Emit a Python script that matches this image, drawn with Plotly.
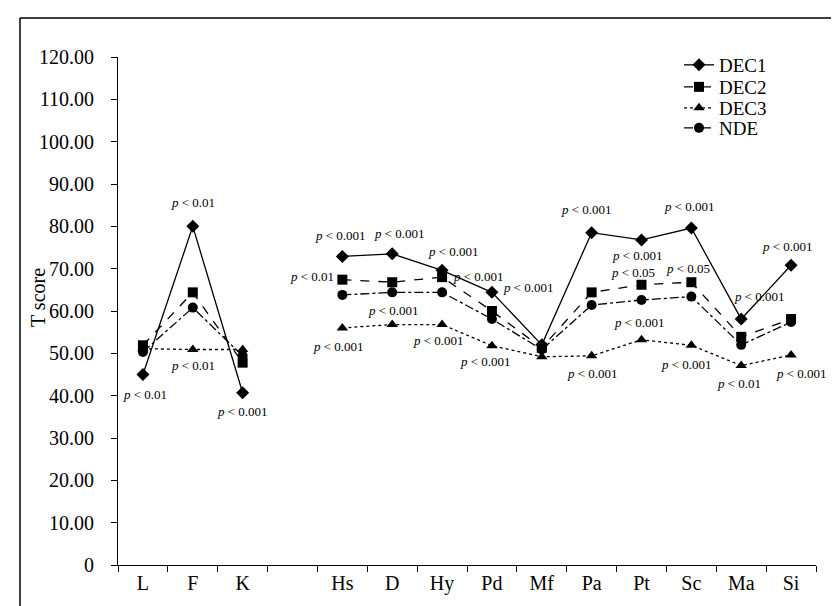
import plotly.graph_objects as go

# ---- data ----
categories_left = ["L", "F", "K"]
categories_right = ["Hs", "D", "Hy", "Pd", "Mf", "Pa", "Pt", "Sc", "Ma", "Si"]
gap_label = " "

dec1_left = [45.0, 80.0, 40.7]
dec1_right = [72.9, 73.5, 69.6, 64.4, 52.0, 78.5, 76.8, 79.6, 58.1, 70.8]
dec2_left = [51.9, 64.4, 47.8]
dec2_right = [67.4, 66.8, 68.0, 60.0, 51.3, 64.4, 66.2, 66.8, 53.9, 58.1]
dec3_left = [51.1, 50.9, 50.9]
dec3_right = [56.0, 56.8, 56.8, 51.8, 49.2, 49.4, 53.2, 51.9, 47.1, 49.6]
nde_left = [50.3, 60.8, 49.4]
nde_right = [63.8, 64.4, 64.4, 58.1, 50.9, 61.4, 62.6, 63.4, 52.0, 57.4]

y_tickvals = [0, 10, 20, 30, 40, 50, 60, 70, 80, 90, 100, 110, 120]
y_ticktext = ["0", "10.00", "20.00", "30.00", "40.00", "50.00", "60.00",
              "70.00", "80.00", "90.00", "100.00", "110.00", "120.00"]

# p-value labels: (series, category, text, dx, dy, xanchor)
p_labels = [
    ("DEC1", "F", "0.01", 0, -24, "center"),
    ("DEC3", "F", "0.01", 0, 16, "center"),
    ("DEC1", "L", "0.01", 2, 20, "center"),
    ("DEC1", "K", "0.001", 0, 19, "center"),
    ("DEC1", "Hs", "0.001", -2, -21, "center"),
    ("DEC1", "D", "0.001", 7, -20, "center"),
    ("DEC1", "Hy", "0.001", 11, -19, "center"),
    ("DEC2", "Hs", "0.01", -6, -3, "right"),
    ("DEC2", "Hy", "0.001", 9, -1, "left"),
    ("DEC1", "Pd", "0.001", 9, -5, "left"),
    ("DEC3", "Hs", "0.001", -4, 19, "center"),
    ("DEC3", "D", "0.001", 1, -14, "center"),
    ("DEC3", "Hy", "0.001", -4, 16, "center"),
    ("DEC3", "Pd", "0.001", -6, 16, "center"),
    ("DEC1", "Pa", "0.001", -5, -23, "center"),
    ("DEC1", "Pt", "0.001", -4, 16, "center"),
    ("DEC1", "Sc", "0.001", -2, -22, "center"),
    ("DEC1", "Si", "0.001", -4, -19, "center"),
    ("DEC1", "Ma", "0.001", 18, -23, "center"),
    ("DEC2", "Pt", "0.05", -9, -12, "center"),
    ("DEC2", "Sc", "0.05", -3, -14, "center"),
    ("DEC3", "Pt", "0.001", -2, -17, "center"),
    ("DEC3", "Pa", "0.001", 1, 18, "center"),
    ("DEC3", "Sc", "0.001", -5, 19, "center"),
    ("DEC3", "Ma", "0.01", -2, 18, "center"),
    ("DEC3", "Si", "0.001", 10, 18, "center"),
]

FONT = "Liberation Serif, Times New Roman, serif"
series = [
    ("DEC1", dec1_left, dec1_right, "solid", "diamond", 10),
    ("DEC2", dec2_left, dec2_right, "dash", "square", 10),
    ("DEC3", dec3_left, dec3_right, "dot", "triangle-up", 10),
    ("NDE", nde_left, nde_right, "dashdot", "circle", 10),
]

W, H = 839, 606
L, R, T, B = 110, 31, 49, 49
pw, ph = W - L - R, H - T - B


def px(xpix):
    return (xpix - L) / pw


def py(ypix):
    return (H - B - ypix) / ph


legend_ids = ["legend", "legend2", "legend3", "legend4"]
legend_rows = [57, 79, 100, 120]

x_all = categories_left + [gap_label] + categories_right
fig = go.Figure()
values = {}
for i, (name, left, right, dash, symbol, size) in enumerate(series):
    y_all = left + [None] + right
    values[name] = dict(zip(x_all, y_all))
    fig.add_trace(go.Scatter(
        x=x_all, y=y_all, name=name, mode="lines+markers",
        connectgaps=False, legend=legend_ids[i],
        line=dict(color="black", width=1.3, dash=dash),
        marker=dict(symbol=symbol, size=size, color="black"),
    ))

annotations = []
for s, cat, pv, dx, dy, xa in p_labels:
    annotations.append(dict(
        x=cat, y=values[s][cat], xref="x", yref="y",
        text="<i>p</i> < " + pv, showarrow=False,
        xanchor=xa, yanchor="middle", xshift=dx, yshift=-dy,
        font=dict(family=FONT, size=13, color="black"),
    ))

# y-axis title
annotations.append(dict(
    x=px(30), y=py(290), xref="paper", yref="paper", text="T score",
    textangle=-90, showarrow=False, xanchor="center", yanchor="middle",
    font=dict(family=FONT, size=20, color="black"),
))

shapes = [
    dict(type="line", xref="paper", yref="paper", x0=px(12), x1=px(839),
         y0=py(10), y1=py(10), line=dict(color="black", width=1.5)),
    dict(type="line", xref="paper", yref="paper", x0=px(12), x1=px(12),
         y0=py(10), y1=py(606), line=dict(color="black", width=1.5)),
]

legend_layout = {}
for lid, row in zip(legend_ids, legend_rows):
    legend_layout[lid] = dict(
        x=px(671), y=py(row), xanchor="left", yanchor="middle",
        bgcolor="rgba(0,0,0,0)", font=dict(family=FONT, size=19),
        itemwidth=30,
    )

fig.update_layout(
    width=W, height=H,
    margin=dict(l=L, r=R, t=T, b=B),
    paper_bgcolor="white", plot_bgcolor="white",
    font=dict(family=FONT, color="black"),
    showlegend=True,
    annotations=annotations,
    shapes=shapes,
    **legend_layout,
)

fig.update_xaxes(
    type="category", categoryorder="array", categoryarray=x_all,
    range=[-0.5, len(x_all) - 0.5],
    tickson="boundaries", ticks="outside", ticklen=6, tickcolor="black",
    showline=True, linecolor="black", linewidth=1, showgrid=False,
    zeroline=False, tickfont=dict(family=FONT, size=20, color="black"),
    ticklabelstandoff=0,
)
fig.update_yaxes(
    range=[0, 120], tickvals=y_tickvals, ticktext=y_ticktext,
    ticks="outside", ticklen=6, tickcolor="black",
    showline=True, linecolor="black", linewidth=1, showgrid=False,
    zeroline=False, tickfont=dict(family=FONT, size=20, color="black"),
    ticklabelstandoff=13,
)

fig.write_html("out.html")
